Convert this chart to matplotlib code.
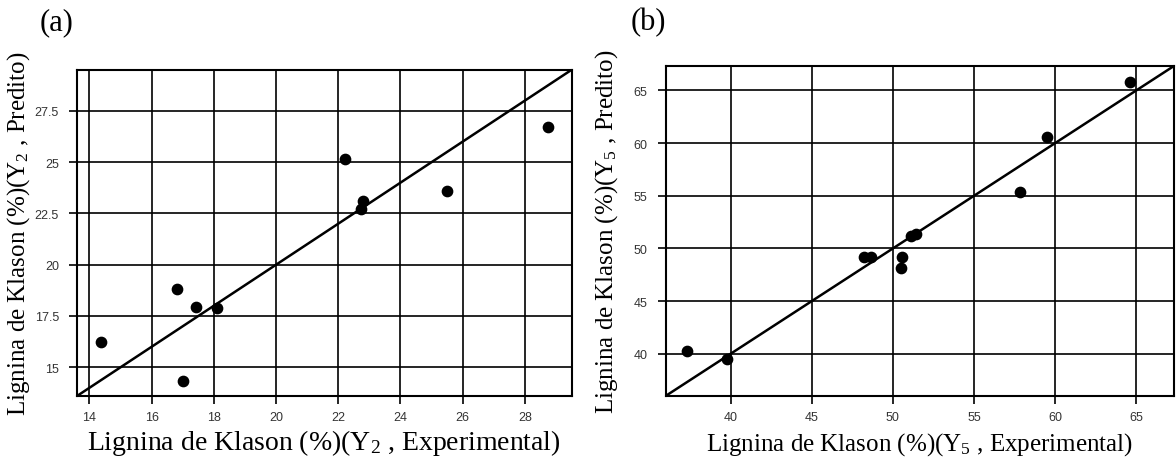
import numpy as np
from matplotlib import pyplot as plt

plt.rcParams['font.family'] = 'Liberation Serif'

# (a) Y2 - experimental vs predicted
y2_exp = [14.38, 16.81, 17.02, 17.42, 18.10, 22.21, 22.72, 22.80, 25.49, 28.73]
y2_pred = [16.22, 18.83, 14.35, 17.92, 17.90, 25.14, 22.74, 23.10, 23.59, 26.69]
y2_xticks = [14, 16, 18, 20, 22, 24, 26, 28]
y2_yticks = [15, 17.5, 20, 22.5, 25, 27.5]
y2_lim = (13.6, 29.5)

# (b) Y5 - experimental vs predicted
y5_exp = [37.33, 39.81, 48.24, 48.65, 50.58, 50.51, 51.11, 51.44, 57.84, 59.47, 64.64]
y5_pred = [40.31, 39.50, 49.19, 49.19, 49.19, 48.16, 51.14, 51.39, 55.40, 60.55, 65.78]
y5_ticks = [40, 45, 50, 55, 60, 65]
y5_lim = (36.0, 67.3)

fig = plt.figure(figsize=(11.76, 4.6), dpi=100)
ax1 = fig.add_axes([0.0655, 0.137, 0.4205, 0.709])
ax2 = fig.add_axes([0.566, 0.137, 0.432, 0.717])


def style(ax, lim, xticks, yticks, xfmt, yfmt):
    ax.set_xlim(lim)
    ax.set_ylim(lim)
    ax.set_xticks(xticks)
    ax.set_yticks(yticks)
    ax.set_xticklabels([xfmt(t) for t in xticks], family='Liberation Sans',
                       fontsize=9, color='#333333')
    ax.set_yticklabels([yfmt(t) for t in yticks], family='Liberation Sans',
                       fontsize=9, color='#333333')
    ax.tick_params(length=6, width=1.2, direction='out')
    ax.tick_params(axis='x', pad=5)
    ax.tick_params(axis='y', pad=7)
    ax.grid(True, color='black', linewidth=1.2)
    for s in ax.spines.values():
        s.set_linewidth(1.5)
    # 1:1 line
    ax.plot(lim, lim, color='black', linewidth=1.8, zorder=3)


style(ax1, y2_lim, y2_xticks, y2_yticks, lambda t: '%d' % t, lambda t: '%g' % t)
ax1.scatter(y2_exp, y2_pred, s=55, color='black', zorder=4)
ax1.set_xlabel('Lignina de Klason (%)(Y$\\mathregular{_2}$ , Experimental)',
               fontsize=20)
ax1.xaxis.set_label_coords(0.5, -0.095)
ax1.xaxis.label.set_va('top')
ax1.set_ylabel('Lignina de Klason (%)(Y$\\mathregular{_2}$ , Predito)',
               fontsize=18)
ax1.yaxis.set_label_coords(-0.092, 0.5)

style(ax2, y5_lim, y5_ticks, y5_ticks, lambda t: '%d' % t, lambda t: '%d' % t)
ax2.scatter(y5_exp, y5_pred, s=55, color='black', zorder=4)
ax2.set_xlabel('Lignina de Klason (%)(Y$\\mathregular{_5}$ , Experimental)',
               fontsize=18)
ax2.xaxis.set_label_coords(0.5, -0.105)
ax2.xaxis.label.set_va('top')
ax2.set_ylabel('Lignina de Klason (%)(Y$\\mathregular{_5}$ , Predito)',
               fontsize=18)
ax2.yaxis.set_label_coords(-0.09, 0.5)

fig.text(0.034, 0.95, '(a)', fontsize=22, ha='left', va='center')
fig.text(0.536, 0.952, '(b)', fontsize=22, ha='left', va='center')

plt.savefig('out.png', dpi=100)
